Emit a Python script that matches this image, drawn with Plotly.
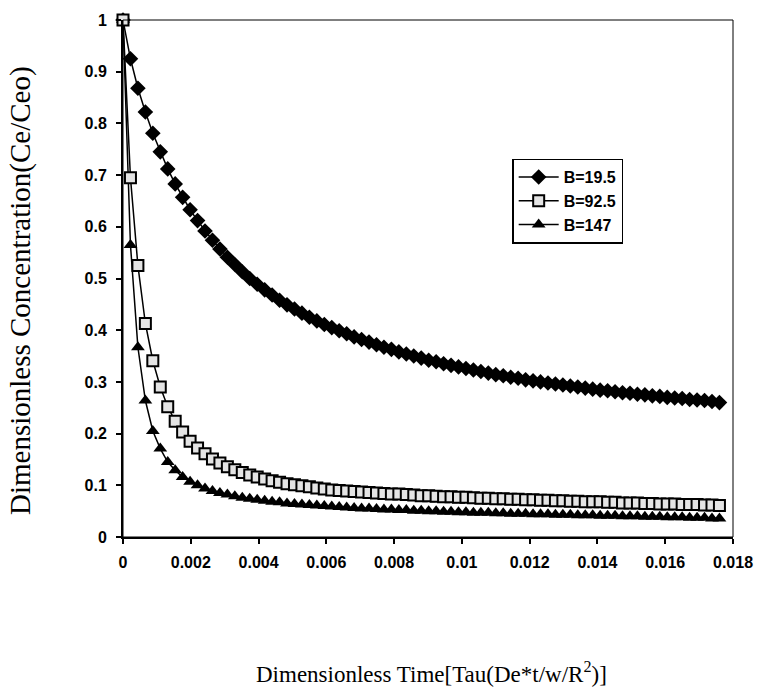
import plotly.graph_objects as go

# Dimensionless time grid (constant step)
TAU_STEP = 0.00022
tau = [round(i * TAU_STEP, 5) for i in range(81)]

# Dimensionless concentration Ce/Ceo for each B value
conc_b19_5 = [
    1.000, 0.925, 0.868, 0.822, 0.781, 0.745, 0.712, 0.683, 0.657, 0.633,
    0.612, 0.592, 0.574, 0.557, 0.541, 0.527, 0.513, 0.500, 0.489, 0.478,
    0.468, 0.458, 0.449, 0.441, 0.433, 0.425, 0.418, 0.411, 0.405, 0.399,
    0.393, 0.387, 0.382, 0.377, 0.372, 0.367, 0.363, 0.358, 0.354, 0.350,
    0.346, 0.342, 0.339, 0.335, 0.332, 0.329, 0.326, 0.323, 0.320, 0.317,
    0.314, 0.312, 0.309, 0.307, 0.304, 0.302, 0.300, 0.298, 0.296, 0.294,
    0.292, 0.290, 0.288, 0.286, 0.284, 0.283, 0.281, 0.279, 0.278, 0.276,
    0.275, 0.273, 0.272, 0.270, 0.269, 0.268, 0.266, 0.265, 0.264, 0.262,
    0.260,
]
conc_b92_5 = [
    1.000, 0.695, 0.525, 0.413, 0.341, 0.290, 0.252, 0.224, 0.203, 0.185,
    0.172, 0.161, 0.151, 0.143, 0.136, 0.130, 0.125, 0.120, 0.116, 0.112,
    0.109, 0.106, 0.103, 0.101, 0.099, 0.097, 0.095, 0.093, 0.091, 0.090,
    0.089, 0.088, 0.087, 0.086, 0.085, 0.084, 0.083, 0.083, 0.082, 0.081,
    0.080, 0.080, 0.079, 0.078, 0.078, 0.077, 0.077, 0.076, 0.075, 0.075,
    0.074, 0.074, 0.073, 0.073, 0.072, 0.072, 0.071, 0.071, 0.070, 0.070,
    0.069, 0.069, 0.068, 0.068, 0.068, 0.067, 0.067, 0.066, 0.066, 0.066,
    0.065, 0.065, 0.064, 0.064, 0.064, 0.063, 0.063, 0.063, 0.062, 0.062,
    0.061,
]
conc_b147 = [
    1.000, 0.565, 0.367, 0.264, 0.205, 0.171, 0.145, 0.129, 0.116, 0.107,
    0.100, 0.094, 0.089, 0.085, 0.082, 0.079, 0.076, 0.074, 0.072, 0.070,
    0.068, 0.067, 0.065, 0.064, 0.063, 0.062, 0.061, 0.060, 0.059, 0.058,
    0.057, 0.056, 0.055, 0.055, 0.054, 0.053, 0.053, 0.052, 0.052, 0.051,
    0.051, 0.050, 0.050, 0.049, 0.049, 0.048, 0.048, 0.047, 0.047, 0.047,
    0.046, 0.046, 0.045, 0.045, 0.045, 0.044, 0.044, 0.044, 0.043, 0.043,
    0.043, 0.042, 0.042, 0.042, 0.041, 0.041, 0.041, 0.040, 0.040, 0.040,
    0.039, 0.039, 0.039, 0.038, 0.038, 0.038, 0.037, 0.037, 0.037, 0.036,
    0.036,
]

x_ticks = [0, 0.002, 0.004, 0.006, 0.008, 0.01, 0.012, 0.014, 0.016, 0.018]
x_tick_labels = ["0", "0.002", "0.004", "0.006", "0.008", "0.01",
                 "0.012", "0.014", "0.016", "0.018"]
y_ticks = [0, 0.1, 0.2, 0.3, 0.4, 0.5, 0.6, 0.7, 0.8, 0.9, 1]
y_tick_labels = ["0", "0.1", "0.2", "0.3", "0.4", "0.5",
                 "0.6", "0.7", "0.8", "0.9", "1"]

SANS = "Liberation Sans"
SERIF = "Liberation Serif"
line_style = dict(color="black", width=1.5)

fig = go.Figure()
fig.add_trace(go.Scatter(
    x=tau, y=conc_b19_5, name="B=19.5", mode="lines+markers",
    line=line_style, cliponaxis=False, legendrank=1,
    marker=dict(symbol="diamond", size=12, color="black"),
))
# triangles go underneath the squares
fig.add_trace(go.Scatter(
    x=tau, y=conc_b147, name="B=147", mode="lines+markers",
    line=line_style, cliponaxis=False, legendrank=3,
    marker=dict(symbol="triangle-up", size=12, color="black"),
))
fig.add_trace(go.Scatter(
    x=tau, y=conc_b92_5, name="B=92.5", mode="lines+markers",
    line=line_style, cliponaxis=False, legendrank=2,
    marker=dict(symbol="square", size=11, color="#e4e4e4",
                line=dict(color="black", width=2)),
))

axis_common = dict(
    showgrid=False, zeroline=False, showline=True, linecolor="black",
    linewidth=2, ticks="outside", ticklen=5, tickwidth=1.5, tickcolor="black",
    tickfont=dict(family=SANS, size=16, color="black", weight="bold"),
)

fig.update_layout(
    width=765, height=689,
    margin=dict(l=123, r=24, t=18, b=152),
    paper_bgcolor="white", plot_bgcolor="white",
    showlegend=True,
    legend=dict(
        x=0.638, y=0.732, xanchor="left", yanchor="top",
        bgcolor="white", bordercolor="black", borderwidth=1.5,
        itemwidth=40, tracegroupgap=0,
        font=dict(family=SANS, size=16, color="black", weight="bold"),
    ),
    xaxis=dict(range=[0, 0.018], tickvals=x_ticks, ticktext=x_tick_labels,
               ticklabelstandoff=5, **axis_common),
    yaxis=dict(range=[0, 1], tickvals=y_ticks, ticktext=y_tick_labels,
               ticklabelstandoff=6, **axis_common),
    shapes=[dict(type="rect", xref="paper", yref="paper", x0=0, y0=0, x1=1, y1=1,
                 line=dict(color="black", width=1), layer="above")],
    annotations=[
        dict(text="Dimensionless Time[Tau(De*t/w/R<sup>2</sup>)]",
             xref="paper", yref="paper", x=0.505, y=-0.262,
             xanchor="center", yanchor="middle", showarrow=False,
             font=dict(family=SERIF, size=23, color="black")),
        dict(text="Dimensionless Concentration(Ce/Ceo)",
             xref="paper", yref="paper", x=-0.167, y=0.476,
             xanchor="center", yanchor="middle", textangle=-90, showarrow=False,
             font=dict(family=SERIF, size=29, color="black")),
    ],
)

fig.write_html("out.html")
